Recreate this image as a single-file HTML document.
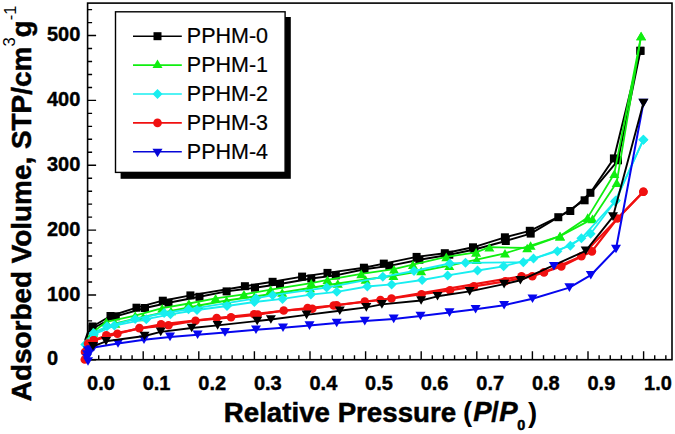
<!DOCTYPE html>
<html><head><meta charset="utf-8"><style>
html,body{margin:0;padding:0;background:#fff;width:675px;height:434px;overflow:hidden}
svg{display:block}
</style></head><body>
<svg width="675" height="434" viewBox="0 0 675 434"><rect x="87.6" y="3.1" width="584.4" height="356.6" fill="none" stroke="#000" stroke-width="1.6"/>
<path d="M87.6 359.80h8.5 M87.6 346.83h4.5 M87.6 333.86h4.5 M87.6 320.89h4.5 M87.6 307.92h4.5 M87.6 294.95h8.5 M87.6 281.98h4.5 M87.6 269.01h4.5 M87.6 256.04h4.5 M87.6 243.07h4.5 M87.6 230.10h8.5 M87.6 217.13h4.5 M87.6 204.16h4.5 M87.6 191.19h4.5 M87.6 178.22h4.5 M87.6 165.25h8.5 M87.6 152.28h4.5 M87.6 139.31h4.5 M87.6 126.34h4.5 M87.6 113.37h4.5 M87.6 100.40h8.5 M87.6 87.43h4.5 M87.6 74.46h4.5 M87.6 61.49h4.5 M87.6 48.52h4.5 M87.6 35.55h8.5 M87.6 22.58h4.5 M87.6 9.61h4.5 M98.72 359.8v-4.5 M109.84 359.8v-4.5 M120.96 359.8v-4.5 M132.08 359.8v-4.5 M143.20 359.8v-8.5 M154.32 359.8v-4.5 M165.44 359.8v-4.5 M176.56 359.8v-4.5 M187.68 359.8v-4.5 M198.80 359.8v-8.5 M209.92 359.8v-4.5 M221.04 359.8v-4.5 M232.16 359.8v-4.5 M243.28 359.8v-4.5 M254.40 359.8v-8.5 M265.52 359.8v-4.5 M276.64 359.8v-4.5 M287.76 359.8v-4.5 M298.88 359.8v-4.5 M310.00 359.8v-8.5 M321.12 359.8v-4.5 M332.24 359.8v-4.5 M343.36 359.8v-4.5 M354.48 359.8v-4.5 M365.60 359.8v-8.5 M376.72 359.8v-4.5 M387.84 359.8v-4.5 M398.96 359.8v-4.5 M410.08 359.8v-4.5 M421.20 359.8v-8.5 M432.32 359.8v-4.5 M443.44 359.8v-4.5 M454.56 359.8v-4.5 M465.68 359.8v-4.5 M476.80 359.8v-8.5 M487.92 359.8v-4.5 M499.04 359.8v-4.5 M510.16 359.8v-4.5 M521.28 359.8v-4.5 M532.40 359.8v-8.5 M543.52 359.8v-4.5 M554.64 359.8v-4.5 M565.76 359.8v-4.5 M576.88 359.8v-4.5 M588.00 359.8v-8.5 M599.12 359.8v-4.5 M610.24 359.8v-4.5 M621.36 359.8v-4.5 M632.48 359.8v-4.5 M643.60 359.8v-8.5 M654.72 359.8v-4.5 M665.84 359.8v-4.5" stroke="#000" stroke-width="1.4" fill="none"/>
<g font-family="Liberation Sans" font-weight="bold" font-size="20" fill="#000" stroke="#000" stroke-width="0.4"><text x="47" y="365.4">0</text><text x="47" y="300.6">100</text><text x="47" y="235.7">200</text><text x="47" y="170.9">300</text><text x="47" y="106.0">400</text><text x="47" y="41.2">500</text><text x="87.1" y="389.6">0.0</text><text x="142.7" y="389.6">0.1</text><text x="198.3" y="389.6">0.2</text><text x="253.9" y="389.6">0.3</text><text x="309.5" y="389.6">0.4</text><text x="365.1" y="389.6">0.5</text><text x="420.7" y="389.6">0.6</text><text x="476.3" y="389.6">0.7</text><text x="531.9" y="389.6">0.8</text><text x="587.5" y="389.6">0.9</text><text x="644.1" y="389.6">1.0</text></g>
<text transform="translate(223.8,421.6) scale(1.007,1)" font-family="Liberation Sans" font-weight="bold" fill="#000" stroke="#000" stroke-width="0.5" font-size="27.5">Relative Pressure</text>
<text x="462.9" y="421.3" font-family="Liberation Sans" font-weight="bold" fill="#000" font-size="27.5">(<tspan x="473.2" font-style="italic" stroke="#000" stroke-width="0.5">P</tspan><tspan x="491.3" stroke="#000" stroke-width="0.4">/</tspan><tspan x="499.3" font-style="italic" stroke="#000" stroke-width="0.5">P</tspan></text>
<text x="517.2" y="430.1" font-family="Liberation Sans" font-weight="bold" fill="#000" stroke="#000" stroke-width="0.5" font-size="14.4">0</text>
<text x="528" y="421.6" font-family="Liberation Sans" font-weight="bold" fill="#000" font-size="27.5">)</text>
<g transform="translate(31,0) rotate(-90)"><text transform="translate(-400.5,0) scale(1.015,1)" x="-0.7" y="0" font-family="Liberation Sans" font-weight="bold" fill="#000" stroke="#000" stroke-width="0.5" font-size="27.5">Adsorbed Volume, STP/cm</text><text x="-46.6" y="-15.8" font-family="Liberation Sans" fill="#000" font-size="16.5">3</text><text x="-37.3" y="0" font-family="Liberation Sans" font-weight="bold" fill="#000" stroke="#000" stroke-width="0.5" font-size="27.5">g</text><text x="-20.2" y="-15.5" font-family="Liberation Sans" fill="#000" font-size="16.5">-1</text></g>
<path d="M84.0 357.0 L84.3 348.0 L85.3 339.5 L87.8 332.5 L92.5 328.5 L115.8 316.3 L145.0 308.0 L168.5 302.7 L199.5 296.8 L226.6 291.4 L255.0 287.7 L280.0 284.0 L311.3 278.5 L335.8 275.4 L364.5 269.3 L389.3 265.9 L419.4 259.7 L449.3 254.7 L474.4 249.5 L505.8 241.0 L530.7 233.6 L558.3 217.2 L584.6 200.3 L618.0 160.3 L640.4 50.8" fill="none" stroke="#000000" stroke-width="1.9" stroke-linejoin="round"/>
<path d="M640.4 50.8 L613.9 158.4 L590.4 192.8 L570.3 211.0 L529.8 230.8 L504.9 237.3 L473.0 247.3 L444.8 253.2 L416.6 256.9 L383.8 263.6 L363.9 267.7 L327.5 272.9 L302.1 276.6 L272.6 281.8 L244.9 286.2 L190.4 295.4 L162.8 300.7 L136.5 307.7 L110.5 316.0 L92.5 326.5" fill="none" stroke="#000000" stroke-width="1.9" stroke-linejoin="round"/>
<rect x="88.5" y="324.5" width="8" height="8" fill="#000000"/>
<rect x="111.8" y="312.3" width="8" height="8" fill="#000000"/>
<rect x="141.0" y="304.0" width="8" height="8" fill="#000000"/>
<rect x="164.5" y="298.7" width="8" height="8" fill="#000000"/>
<rect x="195.5" y="292.8" width="8" height="8" fill="#000000"/>
<rect x="222.6" y="287.4" width="8" height="8" fill="#000000"/>
<rect x="251.0" y="283.7" width="8" height="8" fill="#000000"/>
<rect x="276.0" y="280.0" width="8" height="8" fill="#000000"/>
<rect x="307.3" y="274.5" width="8" height="8" fill="#000000"/>
<rect x="331.8" y="271.4" width="8" height="8" fill="#000000"/>
<rect x="360.5" y="265.3" width="8" height="8" fill="#000000"/>
<rect x="385.3" y="261.9" width="8" height="8" fill="#000000"/>
<rect x="415.4" y="255.7" width="8" height="8" fill="#000000"/>
<rect x="445.3" y="250.7" width="8" height="8" fill="#000000"/>
<rect x="470.4" y="245.5" width="8" height="8" fill="#000000"/>
<rect x="501.8" y="237.0" width="8" height="8" fill="#000000"/>
<rect x="526.7" y="229.6" width="8" height="8" fill="#000000"/>
<rect x="554.3" y="213.2" width="8" height="8" fill="#000000"/>
<rect x="580.6" y="196.3" width="8" height="8" fill="#000000"/>
<rect x="614.0" y="156.3" width="8" height="8" fill="#000000"/>
<rect x="636.4" y="46.8" width="8" height="8" fill="#000000"/>
<rect x="636.4" y="46.8" width="8" height="8" fill="#000000"/>
<rect x="609.9" y="154.4" width="8" height="8" fill="#000000"/>
<rect x="586.4" y="188.8" width="8" height="8" fill="#000000"/>
<rect x="566.3" y="207.0" width="8" height="8" fill="#000000"/>
<rect x="525.8" y="226.8" width="8" height="8" fill="#000000"/>
<rect x="500.9" y="233.3" width="8" height="8" fill="#000000"/>
<rect x="469.0" y="243.3" width="8" height="8" fill="#000000"/>
<rect x="440.8" y="249.2" width="8" height="8" fill="#000000"/>
<rect x="412.6" y="252.9" width="8" height="8" fill="#000000"/>
<rect x="379.8" y="259.6" width="8" height="8" fill="#000000"/>
<rect x="359.9" y="263.7" width="8" height="8" fill="#000000"/>
<rect x="323.5" y="268.9" width="8" height="8" fill="#000000"/>
<rect x="298.1" y="272.6" width="8" height="8" fill="#000000"/>
<rect x="268.6" y="277.8" width="8" height="8" fill="#000000"/>
<rect x="240.9" y="282.2" width="8" height="8" fill="#000000"/>
<rect x="186.4" y="291.4" width="8" height="8" fill="#000000"/>
<rect x="158.8" y="296.7" width="8" height="8" fill="#000000"/>
<rect x="132.5" y="303.7" width="8" height="8" fill="#000000"/>
<rect x="106.5" y="312.0" width="8" height="8" fill="#000000"/>
<rect x="88.5" y="322.5" width="8" height="8" fill="#000000"/>
<path d="M84.0 358.0 L85.0 346.0 L88.0 338.0 L93.0 333.0 L115.4 323.5 L143.2 317.0 L171.0 311.0 L198.8 305.5 L226.6 300.5 L254.4 296.5 L282.2 292.5 L310.0 288.0 L337.8 283.5 L365.6 279.5 L393.4 275.8 L421.2 271.0 L449.3 265.7 L476.7 259.6 L505.0 253.3 L530.6 245.5 L560.0 236.1 L592.5 218.9 L616.7 182.6 L641.1 36.0" fill="none" stroke="#10ee10" stroke-width="1.8" stroke-linejoin="round"/>
<path d="M641.1 36.0 L614.3 173.7 L587.7 217.6 L560.0 236.1 L527.2 248.0 L489.4 247.2 L476.1 252.4 L446.3 256.9 L412.9 264.6 L394.0 269.2 L361.3 273.9 L327.5 279.8 L311.3 283.2 L270.7 289.7 L244.0 294.3 L215.6 298.3 L188.9 303.5 L162.2 308.2 L135.2 315.6 L106.3 321.9 L93.0 332.0" fill="none" stroke="#10ee10" stroke-width="1.8" stroke-linejoin="round"/>
<path d="M93.0 328.7L98.0 337.3L88.0 337.3Z" fill="#10ee10"/>
<path d="M115.4 319.2L120.4 327.8L110.4 327.8Z" fill="#10ee10"/>
<path d="M143.2 312.7L148.2 321.3L138.2 321.3Z" fill="#10ee10"/>
<path d="M171.0 306.7L176.0 315.3L166.0 315.3Z" fill="#10ee10"/>
<path d="M198.8 301.2L203.8 309.8L193.8 309.8Z" fill="#10ee10"/>
<path d="M226.6 296.2L231.6 304.8L221.6 304.8Z" fill="#10ee10"/>
<path d="M254.4 292.2L259.4 300.8L249.4 300.8Z" fill="#10ee10"/>
<path d="M282.2 288.2L287.2 296.8L277.2 296.8Z" fill="#10ee10"/>
<path d="M310.0 283.7L315.0 292.3L305.0 292.3Z" fill="#10ee10"/>
<path d="M337.8 279.2L342.8 287.8L332.8 287.8Z" fill="#10ee10"/>
<path d="M365.6 275.2L370.6 283.8L360.6 283.8Z" fill="#10ee10"/>
<path d="M393.4 271.5L398.4 280.1L388.4 280.1Z" fill="#10ee10"/>
<path d="M421.2 266.7L426.2 275.3L416.2 275.3Z" fill="#10ee10"/>
<path d="M449.3 261.4L454.3 270.0L444.3 270.0Z" fill="#10ee10"/>
<path d="M476.7 255.3L481.7 263.9L471.7 263.9Z" fill="#10ee10"/>
<path d="M505.0 249.0L510.0 257.6L500.0 257.6Z" fill="#10ee10"/>
<path d="M530.6 241.2L535.6 249.8L525.6 249.8Z" fill="#10ee10"/>
<path d="M560.0 231.8L565.0 240.4L555.0 240.4Z" fill="#10ee10"/>
<path d="M592.5 214.6L597.5 223.2L587.5 223.2Z" fill="#10ee10"/>
<path d="M616.7 178.3L621.7 186.9L611.7 186.9Z" fill="#10ee10"/>
<path d="M641.1 31.7L646.1 40.3L636.1 40.3Z" fill="#10ee10"/>
<path d="M641.1 31.7L646.1 40.3L636.1 40.3Z" fill="#10ee10"/>
<path d="M614.3 169.4L619.3 178.0L609.3 178.0Z" fill="#10ee10"/>
<path d="M587.7 213.3L592.7 221.9L582.7 221.9Z" fill="#10ee10"/>
<path d="M560.0 231.8L565.0 240.4L555.0 240.4Z" fill="#10ee10"/>
<path d="M527.2 243.7L532.2 252.3L522.2 252.3Z" fill="#10ee10"/>
<path d="M489.4 242.9L494.4 251.5L484.4 251.5Z" fill="#10ee10"/>
<path d="M476.1 248.1L481.1 256.7L471.1 256.7Z" fill="#10ee10"/>
<path d="M446.3 252.6L451.3 261.2L441.3 261.2Z" fill="#10ee10"/>
<path d="M412.9 260.3L417.9 268.9L407.9 268.9Z" fill="#10ee10"/>
<path d="M394.0 264.9L399.0 273.5L389.0 273.5Z" fill="#10ee10"/>
<path d="M361.3 269.6L366.3 278.2L356.3 278.2Z" fill="#10ee10"/>
<path d="M327.5 275.5L332.5 284.1L322.5 284.1Z" fill="#10ee10"/>
<path d="M311.3 278.9L316.3 287.5L306.3 287.5Z" fill="#10ee10"/>
<path d="M270.7 285.4L275.7 294.0L265.7 294.0Z" fill="#10ee10"/>
<path d="M244.0 290.0L249.0 298.6L239.0 298.6Z" fill="#10ee10"/>
<path d="M215.6 294.0L220.6 302.6L210.6 302.6Z" fill="#10ee10"/>
<path d="M188.9 299.2L193.9 307.8L183.9 307.8Z" fill="#10ee10"/>
<path d="M162.2 303.9L167.2 312.5L157.2 312.5Z" fill="#10ee10"/>
<path d="M135.2 311.3L140.2 319.9L130.2 319.9Z" fill="#10ee10"/>
<path d="M106.3 317.6L111.3 326.2L101.3 326.2Z" fill="#10ee10"/>
<path d="M93.0 327.7L98.0 336.3L88.0 336.3Z" fill="#10ee10"/>
<path d="M83.8 358.0 L84.3 351.0 L85.3 344.5 L88.5 338.5 L93.7 334.4 L114.4 325.6 L146.3 319.2 L170.5 314.3 L197.0 310.0 L227.0 306.0 L254.4 302.0 L282.5 298.9 L310.9 294.6 L336.8 291.8 L367.3 286.5 L391.6 284.4 L422.1 280.0 L447.6 275.4 L477.5 270.5 L503.6 266.3 L533.5 258.6 L557.4 251.2 L590.6 233.7 L615.8 200.5 L643.4 139.7" fill="none" stroke="#18eef0" stroke-width="1.8" stroke-linejoin="round"/>
<path d="M643.4 139.7 L615.0 201.5 L581.4 238.3 L570.3 245.7 L523.3 262.3 L465.5 262.8 L449.8 263.5 L414.0 271.0 L382.8 276.8 L326.6 287.6 L272.6 295.2 L256.0 298.3 L188.5 309.3 L164.1 313.0 L135.2 318.9 L107.0 326.3 L93.7 333.0" fill="none" stroke="#18eef0" stroke-width="1.8" stroke-linejoin="round"/>
<path d="M85.3 339.5L90.3 344.5L85.3 349.5L80.3 344.5Z" fill="#18eef0"/>
<path d="M93.7 329.4L98.7 334.4L93.7 339.4L88.7 334.4Z" fill="#18eef0"/>
<path d="M114.4 320.6L119.4 325.6L114.4 330.6L109.4 325.6Z" fill="#18eef0"/>
<path d="M146.3 314.2L151.3 319.2L146.3 324.2L141.3 319.2Z" fill="#18eef0"/>
<path d="M170.5 309.3L175.5 314.3L170.5 319.3L165.5 314.3Z" fill="#18eef0"/>
<path d="M197.0 305.0L202.0 310.0L197.0 315.0L192.0 310.0Z" fill="#18eef0"/>
<path d="M227.0 301.0L232.0 306.0L227.0 311.0L222.0 306.0Z" fill="#18eef0"/>
<path d="M254.4 297.0L259.4 302.0L254.4 307.0L249.4 302.0Z" fill="#18eef0"/>
<path d="M282.5 293.9L287.5 298.9L282.5 303.9L277.5 298.9Z" fill="#18eef0"/>
<path d="M310.9 289.6L315.9 294.6L310.9 299.6L305.9 294.6Z" fill="#18eef0"/>
<path d="M336.8 286.8L341.8 291.8L336.8 296.8L331.8 291.8Z" fill="#18eef0"/>
<path d="M367.3 281.5L372.3 286.5L367.3 291.5L362.3 286.5Z" fill="#18eef0"/>
<path d="M391.6 279.4L396.6 284.4L391.6 289.4L386.6 284.4Z" fill="#18eef0"/>
<path d="M422.1 275.0L427.1 280.0L422.1 285.0L417.1 280.0Z" fill="#18eef0"/>
<path d="M447.6 270.4L452.6 275.4L447.6 280.4L442.6 275.4Z" fill="#18eef0"/>
<path d="M477.5 265.5L482.5 270.5L477.5 275.5L472.5 270.5Z" fill="#18eef0"/>
<path d="M503.6 261.3L508.6 266.3L503.6 271.3L498.6 266.3Z" fill="#18eef0"/>
<path d="M533.5 253.6L538.5 258.6L533.5 263.6L528.5 258.6Z" fill="#18eef0"/>
<path d="M557.4 246.2L562.4 251.2L557.4 256.2L552.4 251.2Z" fill="#18eef0"/>
<path d="M590.6 228.7L595.6 233.7L590.6 238.7L585.6 233.7Z" fill="#18eef0"/>
<path d="M615.8 195.5L620.8 200.5L615.8 205.5L610.8 200.5Z" fill="#18eef0"/>
<path d="M643.4 134.7L648.4 139.7L643.4 144.7L638.4 139.7Z" fill="#18eef0"/>
<path d="M643.4 134.7L648.4 139.7L643.4 144.7L638.4 139.7Z" fill="#18eef0"/>
<path d="M615.0 196.5L620.0 201.5L615.0 206.5L610.0 201.5Z" fill="#18eef0"/>
<path d="M581.4 233.3L586.4 238.3L581.4 243.3L576.4 238.3Z" fill="#18eef0"/>
<path d="M570.3 240.7L575.3 245.7L570.3 250.7L565.3 245.7Z" fill="#18eef0"/>
<path d="M523.3 257.3L528.3 262.3L523.3 267.3L518.3 262.3Z" fill="#18eef0"/>
<path d="M465.5 257.8L470.5 262.8L465.5 267.8L460.5 262.8Z" fill="#18eef0"/>
<path d="M449.8 258.5L454.8 263.5L449.8 268.5L444.8 263.5Z" fill="#18eef0"/>
<path d="M414.0 266.0L419.0 271.0L414.0 276.0L409.0 271.0Z" fill="#18eef0"/>
<path d="M382.8 271.8L387.8 276.8L382.8 281.8L377.8 276.8Z" fill="#18eef0"/>
<path d="M326.6 282.6L331.6 287.6L326.6 292.6L321.6 287.6Z" fill="#18eef0"/>
<path d="M272.6 290.2L277.6 295.2L272.6 300.2L267.6 295.2Z" fill="#18eef0"/>
<path d="M256.0 293.3L261.0 298.3L256.0 303.3L251.0 298.3Z" fill="#18eef0"/>
<path d="M188.5 304.3L193.5 309.3L188.5 314.3L183.5 309.3Z" fill="#18eef0"/>
<path d="M164.1 308.0L169.1 313.0L164.1 318.0L159.1 313.0Z" fill="#18eef0"/>
<path d="M135.2 313.9L140.2 318.9L135.2 323.9L130.2 318.9Z" fill="#18eef0"/>
<path d="M107.0 321.3L112.0 326.3L107.0 331.3L102.0 326.3Z" fill="#18eef0"/>
<path d="M93.7 328.0L98.7 333.0L93.7 338.0L88.7 333.0Z" fill="#18eef0"/>
<path d="M84.8 359.5 L85.0 352.0 L88.0 343.5 L93.7 340.4 L117.4 333.7 L139.4 328.1 L168.5 325.3 L195.5 320.7 L231.0 317.3 L257.8 314.6 L283.7 310.5 L312.3 308.7 L336.7 305.2 L364.8 301.5 L391.5 298.5 L421.5 294.2 L450.0 290.3 L473.9 286.4 L505.3 281.3 L532.3 276.2 L561.3 266.4 L591.9 251.4 L617.3 218.5 L643.4 191.8" fill="none" stroke="#f01010" stroke-width="2.2" stroke-linejoin="round"/>
<path d="M643.4 191.8 L581.4 256.2 L544.0 272.4 L521.5 276.3 L380.4 300.0 L333.7 305.5 L307.6 308.1 L254.1 314.2 L216.7 318.0 L161.1 324.4 L106.3 335.2 L93.7 340.4" fill="none" stroke="#f01010" stroke-width="2.2" stroke-linejoin="round"/>
<circle cx="84.8" cy="359.5" r="4.3" fill="#f01010"/>
<circle cx="85.0" cy="352.0" r="4.3" fill="#f01010"/>
<circle cx="88.0" cy="343.5" r="4.3" fill="#f01010"/>
<circle cx="93.7" cy="340.4" r="4.3" fill="#f01010"/>
<circle cx="117.4" cy="333.7" r="4.3" fill="#f01010"/>
<circle cx="139.4" cy="328.1" r="4.3" fill="#f01010"/>
<circle cx="168.5" cy="325.3" r="4.3" fill="#f01010"/>
<circle cx="195.5" cy="320.7" r="4.3" fill="#f01010"/>
<circle cx="231.0" cy="317.3" r="4.3" fill="#f01010"/>
<circle cx="257.8" cy="314.6" r="4.3" fill="#f01010"/>
<circle cx="283.7" cy="310.5" r="4.3" fill="#f01010"/>
<circle cx="312.3" cy="308.7" r="4.3" fill="#f01010"/>
<circle cx="336.7" cy="305.2" r="4.3" fill="#f01010"/>
<circle cx="364.8" cy="301.5" r="4.3" fill="#f01010"/>
<circle cx="391.5" cy="298.5" r="4.3" fill="#f01010"/>
<circle cx="421.5" cy="294.2" r="4.3" fill="#f01010"/>
<circle cx="450.0" cy="290.3" r="4.3" fill="#f01010"/>
<circle cx="473.9" cy="286.4" r="4.3" fill="#f01010"/>
<circle cx="505.3" cy="281.3" r="4.3" fill="#f01010"/>
<circle cx="532.3" cy="276.2" r="4.3" fill="#f01010"/>
<circle cx="561.3" cy="266.4" r="4.3" fill="#f01010"/>
<circle cx="591.9" cy="251.4" r="4.3" fill="#f01010"/>
<circle cx="617.3" cy="218.5" r="4.3" fill="#f01010"/>
<circle cx="643.4" cy="191.8" r="4.3" fill="#f01010"/>
<circle cx="643.4" cy="191.8" r="4.3" fill="#f01010"/>
<circle cx="581.4" cy="256.2" r="4.3" fill="#f01010"/>
<circle cx="544.0" cy="272.4" r="4.3" fill="#f01010"/>
<circle cx="521.5" cy="276.3" r="4.3" fill="#f01010"/>
<circle cx="380.4" cy="300.0" r="4.3" fill="#f01010"/>
<circle cx="333.7" cy="305.5" r="4.3" fill="#f01010"/>
<circle cx="307.6" cy="308.1" r="4.3" fill="#f01010"/>
<circle cx="254.1" cy="314.2" r="4.3" fill="#f01010"/>
<circle cx="216.7" cy="318.0" r="4.3" fill="#f01010"/>
<circle cx="161.1" cy="324.4" r="4.3" fill="#f01010"/>
<circle cx="106.3" cy="335.2" r="4.3" fill="#f01010"/>
<circle cx="93.7" cy="340.4" r="4.3" fill="#f01010"/>
<path d="M88.0 361.5 L87.0 358.0 L87.0 354.5 L89.5 353.0 L88.0 350.5 L91.0 349.5 L93.7 347.5 L118.0 343.5 L144.0 339.8 L170.0 336.9 L197.6 334.7 L225.0 332.4 L256.0 329.8 L283.0 327.8 L309.5 325.6 L336.7 323.0 L364.8 321.1 L393.7 318.9 L420.5 316.0 L449.5 312.6 L475.6 309.3 L504.1 305.2 L532.5 298.7 L569.4 287.6 L590.8 275.2 L616.0 249.0 L643.4 103.1" fill="none" stroke="#0606ee" stroke-width="2.0" stroke-linejoin="round"/>
<path d="M88.0 365.8L93.0 357.2L83.0 357.2Z" fill="#0606ee"/>
<path d="M87.0 362.3L92.0 353.7L82.0 353.7Z" fill="#0606ee"/>
<path d="M87.0 358.8L92.0 350.2L82.0 350.2Z" fill="#0606ee"/>
<path d="M89.5 357.3L94.5 348.7L84.5 348.7Z" fill="#0606ee"/>
<path d="M88.0 354.8L93.0 346.2L83.0 346.2Z" fill="#0606ee"/>
<path d="M91.0 353.8L96.0 345.2L86.0 345.2Z" fill="#0606ee"/>
<path d="M93.7 351.8L98.7 343.2L88.7 343.2Z" fill="#0606ee"/>
<path d="M118.0 347.8L123.0 339.2L113.0 339.2Z" fill="#0606ee"/>
<path d="M144.0 344.1L149.0 335.5L139.0 335.5Z" fill="#0606ee"/>
<path d="M170.0 341.2L175.0 332.6L165.0 332.6Z" fill="#0606ee"/>
<path d="M197.6 339.0L202.6 330.4L192.6 330.4Z" fill="#0606ee"/>
<path d="M225.0 336.7L230.0 328.1L220.0 328.1Z" fill="#0606ee"/>
<path d="M256.0 334.1L261.0 325.5L251.0 325.5Z" fill="#0606ee"/>
<path d="M283.0 332.1L288.0 323.5L278.0 323.5Z" fill="#0606ee"/>
<path d="M309.5 329.9L314.5 321.3L304.5 321.3Z" fill="#0606ee"/>
<path d="M336.7 327.3L341.7 318.7L331.7 318.7Z" fill="#0606ee"/>
<path d="M364.8 325.4L369.8 316.8L359.8 316.8Z" fill="#0606ee"/>
<path d="M393.7 323.2L398.7 314.6L388.7 314.6Z" fill="#0606ee"/>
<path d="M420.5 320.3L425.5 311.7L415.5 311.7Z" fill="#0606ee"/>
<path d="M449.5 316.9L454.5 308.3L444.5 308.3Z" fill="#0606ee"/>
<path d="M475.6 313.6L480.6 305.0L470.6 305.0Z" fill="#0606ee"/>
<path d="M504.1 309.5L509.1 300.9L499.1 300.9Z" fill="#0606ee"/>
<path d="M532.5 303.0L537.5 294.4L527.5 294.4Z" fill="#0606ee"/>
<path d="M569.4 291.9L574.4 283.3L564.4 283.3Z" fill="#0606ee"/>
<path d="M590.8 279.5L595.8 270.9L585.8 270.9Z" fill="#0606ee"/>
<path d="M616.0 253.3L621.0 244.7L611.0 244.7Z" fill="#0606ee"/>
<path d="M643.4 107.4L648.4 98.8L638.4 98.8Z" fill="#0606ee"/>
<path d="M93.0 346.3 L106.0 341.3 L144.5 336.0 L160.7 331.9 L191.7 328.0 L217.6 325.4 L257.2 321.0 L270.9 319.5 L306.6 314.9 L339.8 310.7 L366.3 307.4 L381.9 304.4 L421.1 300.5 L437.5 296.3 L469.7 291.4 L504.1 284.1 L520.4 280.3 L585.7 250.8 L613.0 216.6 L643.4 103.1" fill="none" stroke="#000000" stroke-width="1.9" stroke-linejoin="round"/>
<path d="M93.0 350.6L98.0 342.0L88.0 342.0Z" fill="#000000"/>
<path d="M106.0 345.6L111.0 337.0L101.0 337.0Z" fill="#000000"/>
<path d="M144.5 340.3L149.5 331.7L139.5 331.7Z" fill="#000000"/>
<path d="M160.7 336.2L165.7 327.6L155.7 327.6Z" fill="#000000"/>
<path d="M191.7 332.3L196.7 323.7L186.7 323.7Z" fill="#000000"/>
<path d="M217.6 329.7L222.6 321.1L212.6 321.1Z" fill="#000000"/>
<path d="M257.2 325.3L262.2 316.7L252.2 316.7Z" fill="#000000"/>
<path d="M270.9 323.8L275.9 315.2L265.9 315.2Z" fill="#000000"/>
<path d="M306.6 319.2L311.6 310.6L301.6 310.6Z" fill="#000000"/>
<path d="M339.8 315.0L344.8 306.4L334.8 306.4Z" fill="#000000"/>
<path d="M366.3 311.7L371.3 303.1L361.3 303.1Z" fill="#000000"/>
<path d="M381.9 308.7L386.9 300.1L376.9 300.1Z" fill="#000000"/>
<path d="M421.1 304.8L426.1 296.2L416.1 296.2Z" fill="#000000"/>
<path d="M437.5 300.6L442.5 292.0L432.5 292.0Z" fill="#000000"/>
<path d="M469.7 295.7L474.7 287.1L464.7 287.1Z" fill="#000000"/>
<path d="M504.1 288.4L509.1 279.8L499.1 279.8Z" fill="#000000"/>
<path d="M520.4 284.6L525.4 276.0L515.4 276.0Z" fill="#000000"/>
<path d="M585.7 255.1L590.7 246.5L580.7 246.5Z" fill="#000000"/>
<path d="M613.0 220.9L618.0 212.3L608.0 212.3Z" fill="#000000"/>
<path d="M643.4 107.4L648.4 98.8L638.4 98.8Z" fill="#000000"/>
<path d="M553.9 270.6L558.9 262.0L548.9 262.0Z" fill="#0606ee"/>
<rect x="120.6" y="17" width="170.2" height="161.8" fill="#000"/><rect x="115.5" y="11.8" width="169.6" height="160.6" fill="#fff" stroke="#000" stroke-width="1.4"/><path d="M133 36.2H181.8" stroke="#000" stroke-width="1.6"/><rect x="153.5" y="32.2" width="8" height="8" fill="#000"/><text x="186.8" y="43.3" font-family="Liberation Sans" font-size="21.5" fill="#000" stroke="#000" stroke-width="0.2">PPHM-0</text><path d="M133 65.1H181.8" stroke="#10ee10" stroke-width="1.6"/><path d="M157.5 59.4L162.5 68.0L152.5 68.0Z" fill="#10ee10"/><text x="186.8" y="72.2" font-family="Liberation Sans" font-size="21.5" fill="#000" stroke="#000" stroke-width="0.2">PPHM-1</text><path d="M133 94.0H181.8" stroke="#18eef0" stroke-width="1.6"/><path d="M157.5 89.0L162.5 94.0L157.5 99.0L152.5 94.0Z" fill="#18eef0"/><text x="186.8" y="101.1" font-family="Liberation Sans" font-size="21.5" fill="#000" stroke="#000" stroke-width="0.2">PPHM-2</text><path d="M133 122.9H181.8" stroke="#f01010" stroke-width="1.6"/><circle cx="157.5" cy="122.9" r="4.3" fill="#f01010"/><text x="186.8" y="130.0" font-family="Liberation Sans" font-size="21.5" fill="#000" stroke="#000" stroke-width="0.2">PPHM-3</text><path d="M133 151.8H181.8" stroke="#0606d8" stroke-width="1.6"/><path d="M157.5 157.3L162.5 148.7L152.5 148.7Z" fill="#0606d8"/><text x="186.8" y="158.9" font-family="Liberation Sans" font-size="21.5" fill="#000" stroke="#000" stroke-width="0.2">PPHM-4</text></svg>
</body></html>
